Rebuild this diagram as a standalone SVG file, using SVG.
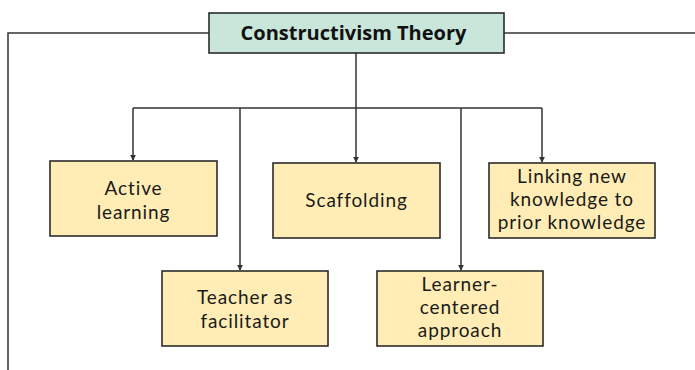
<svg xmlns="http://www.w3.org/2000/svg" width="695" height="370" viewBox="0 0 695 370">
  <defs>
    <marker id="arrow" viewBox="0 0 8 8" refX="7" refY="4" markerWidth="6" markerHeight="6" orient="auto" markerUnits="userSpaceOnUse">
      <path d="M0,0 L8,4 L0,8 Z" fill="#333"/>
    </marker>
    <style>
      .node rect { fill: #FFEDB5; stroke: #2b2b2b; stroke-width: 1.6; }
      .root rect { fill: #C8E6DA; stroke: #2b2b2b; stroke-width: 1.6; }
      .label { font-family: "Lato", "Open Sans", sans-serif; font-size: 19px; letter-spacing: 0.9px; fill: #1a1a1a; text-anchor: middle; }
      .title { font-family: "Open Sans", "Lato", sans-serif; font-size: 20px; font-weight: bold; fill: #111; text-anchor: middle; }
      .conn { fill: none; stroke: #333; stroke-width: 1.5; }
    </style>
  </defs>
  <rect width="695" height="370" fill="#fff"/>

  <g id="connectors">
    <path class="conn" d="M209,33 H8 V370"/>
    <path class="conn" d="M504,33 H695"/>
    <path class="conn" d="M356,53 V108"/>
    <path class="conn" d="M133,108 H542"/>
    <path class="conn" d="M133,108 V160" marker-end="url(#arrow)"/>
    <path class="conn" d="M240,108 V270" marker-end="url(#arrow)"/>
    <path class="conn" d="M356,108 V162" marker-end="url(#arrow)"/>
    <path class="conn" d="M461,108 V270" marker-end="url(#arrow)"/>
    <path class="conn" d="M542,108 V162" marker-end="url(#arrow)"/>
  </g>

  <g id="constructivism-theory" class="root">
    <rect x="209" y="13" width="295" height="40"/>
    <text class="title" x="353.5" y="40">Constructivism Theory</text>
  </g>

  <g id="active-learning" class="node">
    <rect x="50" y="161" width="167" height="75"/>
    <text class="label" x="133.5" y="195">Active</text>
    <text class="label" x="133.5" y="219">learning</text>
  </g>

  <g id="scaffolding" class="node">
    <rect x="273" y="163" width="167" height="75"/>
    <text class="label" x="356.5" y="207">Scaffolding</text>
  </g>

  <g id="linking-knowledge" class="node">
    <rect x="489" y="163" width="166" height="75"/>
    <text class="label" x="572" y="183">Linking new</text>
    <text class="label" x="572" y="206">knowledge to</text>
    <text class="label" x="572" y="229">prior knowledge</text>
  </g>

  <g id="teacher-facilitator" class="node">
    <rect x="162" y="271" width="166" height="75"/>
    <text class="label" x="245" y="304">Teacher as</text>
    <text class="label" x="245" y="328">facilitator</text>
  </g>

  <g id="learner-centered" class="node">
    <rect x="377" y="271" width="166" height="75"/>
    <text class="label" x="460" y="291">Learner-</text>
    <text class="label" x="460" y="314">centered</text>
    <text class="label" x="460" y="337">approach</text>
  </g>
</svg>
